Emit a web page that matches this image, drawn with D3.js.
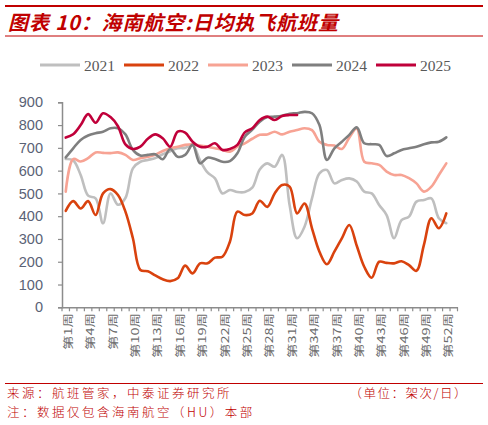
<!DOCTYPE html>
<html><head><meta charset="utf-8">
<script src="https://cdn.jsdelivr.net/npm/d3@7"></script>
<style>body{margin:0;background:#fff}svg{display:block}</style>
</head><body><svg id="c" width="488" height="425"></svg>
<script>
// ---- data ----
const weeks = d3.range(1, 54);             // 53 week slots on the axis
const tickWeeks = d3.range(1, 53, 3);      // labelled weeks 1,4,...,52
const yTicks = [0,100,200,300,400,500,600,700,800,900];
const years = ["2021","2022","2023","2024","2025"];
const s2021 = [651,645,581,490,478,369,500,450,480,610,639,647,655,672,685,698,700,712,645,592,566,500,515,506,506,525,605,632,617,669,449,303,354,478,588,603,544,559,566,552,508,500,449,405,303,383,398,464,471,478,391,369];
const s2022 = [423,466,434,466,405,500,519,493,420,303,164,158,140,123,115,127,183,149,193,193,218,222,288,420,405,412,468,441,500,537,530,412,456,347,244,189,244,303,361,270,178,130,200,195,193,202,185,160,274,391,347,412];
const s2023 = [508,651,640,655,680,678,677,680,669,647,654,661,670,686,698,705,713,716,710,705,698,691,683,705,720,740,757,759,771,759,771,778,786,778,727,713,710,695,745,785,639,632,625,596,581,581,567,544,508,530,581,632];
const s2024 = [658,698,735,754,764,771,786,786,759,691,666,669,672,650,695,661,669,713,632,657,651,639,642,676,749,780,815,835,837,841,850,852,858,852,800,647,698,727,757,790,720,716,713,664,676,691,698,705,716,724,727,746];
const s2025 = [745,760,800,848,810,852,835,795,715,695,705,740,759,742,705,771,767,727,705,705,720,691,695,713,768,786,822,837,822,840,844,844];
const colors = ["#bfbfbf","#d9420e","#f7a394","#7f7f7f","#c0003a"];
const seriesData = [s2021,s2022,s2023,s2024,s2025];

const svg = d3.select("#c");
const red = "#c00000";

// header
svg.append("line").attr("x1",5).attr("x2",483).attr("y1",6).attr("y2",6).attr("stroke",red).attr("stroke-width",2);
svg.append("text").attr("x",8).attr("y",30)
  .attr("font-family","'Noto Sans CJK SC','Noto Sans',sans-serif").attr("font-size",20)
  .attr("font-weight","bold").attr("font-style","italic").attr("fill",red)
  .attr("letter-spacing",0.9)
  .text("图表 10：海南航空:日均执飞航班量");
svg.append("line").attr("x1",5).attr("x2",483).attr("y1",36).attr("y2",36).attr("stroke",red).attr("stroke-width",1);

// scales
const x = d3.scaleBand().domain(weeks).range([62, 457.5]);
const cx = w => x(w) + x.bandwidth()/2;
const y = d3.scaleLinear().domain([0,900]).range([307.3, 102.3]);

const axisColor = "#8c8c8c";
// y axis
const ya = svg.append("g").attr("transform","translate(62,0)")
  .call(d3.axisLeft(y).tickValues(yTicks).tickSize(4).tickPadding(15).tickFormat(d3.format("d")));
ya.select(".domain").attr("stroke",axisColor).attr("stroke-width",1.5);
ya.selectAll(".tick line").attr("stroke",axisColor).attr("stroke-width",1.2);
ya.selectAll(".tick text").attr("font-family","Arial,'Liberation Sans',sans-serif").attr("font-size",14.5).attr("fill","#5a6275");

// x axis
const xa = svg.append("g").attr("transform","translate(0,307.3)")
  .call(d3.axisBottom(x).tickValues([]).tickSizeOuter(0));
xa.select(".domain").attr("stroke",axisColor).attr("stroke-width",1.5);
// tick marks between categories
xa.selectAll("line.bt").data(weeks.concat([54])).enter().append("line").attr("class","bt")
  .attr("x1",w => w===54 ? x.range()[1] : x(w)).attr("x2",w => w===54 ? x.range()[1] : x(w))
  .attr("y1",0).attr("y2",4).attr("stroke",axisColor).attr("stroke-width",1.2);
// labels
svg.append("g").selectAll("text").data(tickWeeks).enter().append("text")
  .attr("transform", w => `translate(${cx(w)+2.5},313) rotate(-90) scale(1.38,1)`)
  .attr("text-anchor","end").attr("dy","0.35em")
  .attr("font-family","'Noto Sans CJK SC',sans-serif").attr("font-size",10.5).attr("fill","#6b6b6b")
  .text(w => `第${w}周`);

// lines
const line = d3.line().x((d,i) => cx(i+1)).y(d => y(d)).curve(d3.curveCatmullRom.alpha(0.5));
svg.append("g").selectAll("path").data(seriesData).enter().append("path")
  .attr("d", d => line(d)).attr("fill","none")
  .attr("stroke",(d,i) => colors[i]).attr("stroke-width",2.6)
  .attr("stroke-linejoin","round").attr("stroke-linecap","round");

// legend
const lg = svg.append("g").selectAll("g").data(years).enter().append("g")
  .attr("transform",(d,i) => `translate(${40 + i*84},65)`);
lg.append("line").attr("x1",0).attr("x2",40).attr("y1",0).attr("y2",0)
  .attr("stroke",(d,i) => colors[i]).attr("stroke-width",3);
lg.append("text").attr("x",44).attr("y",5.5)
  .attr("font-family","'Liberation Serif','DejaVu Serif',serif").attr("font-size",15.5).attr("fill","#595959")
  .text(d => d);

// footer
svg.append("line").attr("x1",5).attr("x2",483).attr("y1",383.5).attr("y2",383.5).attr("stroke",red).attr("stroke-width",1);
const ft = {"font-family":"'Noto Sans CJK SC',sans-serif","font-size":12.5,"fill":red};
const t1 = svg.append("text").attr("x",7).attr("y",398).attr("letter-spacing",2.5).text("来源：航班管家，中泰证券研究所");
const t2 = svg.append("text").attr("x",468).attr("y",398).attr("text-anchor","end").attr("letter-spacing",1.5).text("（单位：架次/日）");
const t3 = svg.append("text").attr("x",7).attr("y",417).attr("letter-spacing",2.5).text("注：数据仅包含海南航空（HU）本部");
[t1,t2,t3].forEach(t => Object.entries(ft).forEach(([k,v]) => t.attr(k,v).attr("font-weight",300)));
</script>
</body></html>
